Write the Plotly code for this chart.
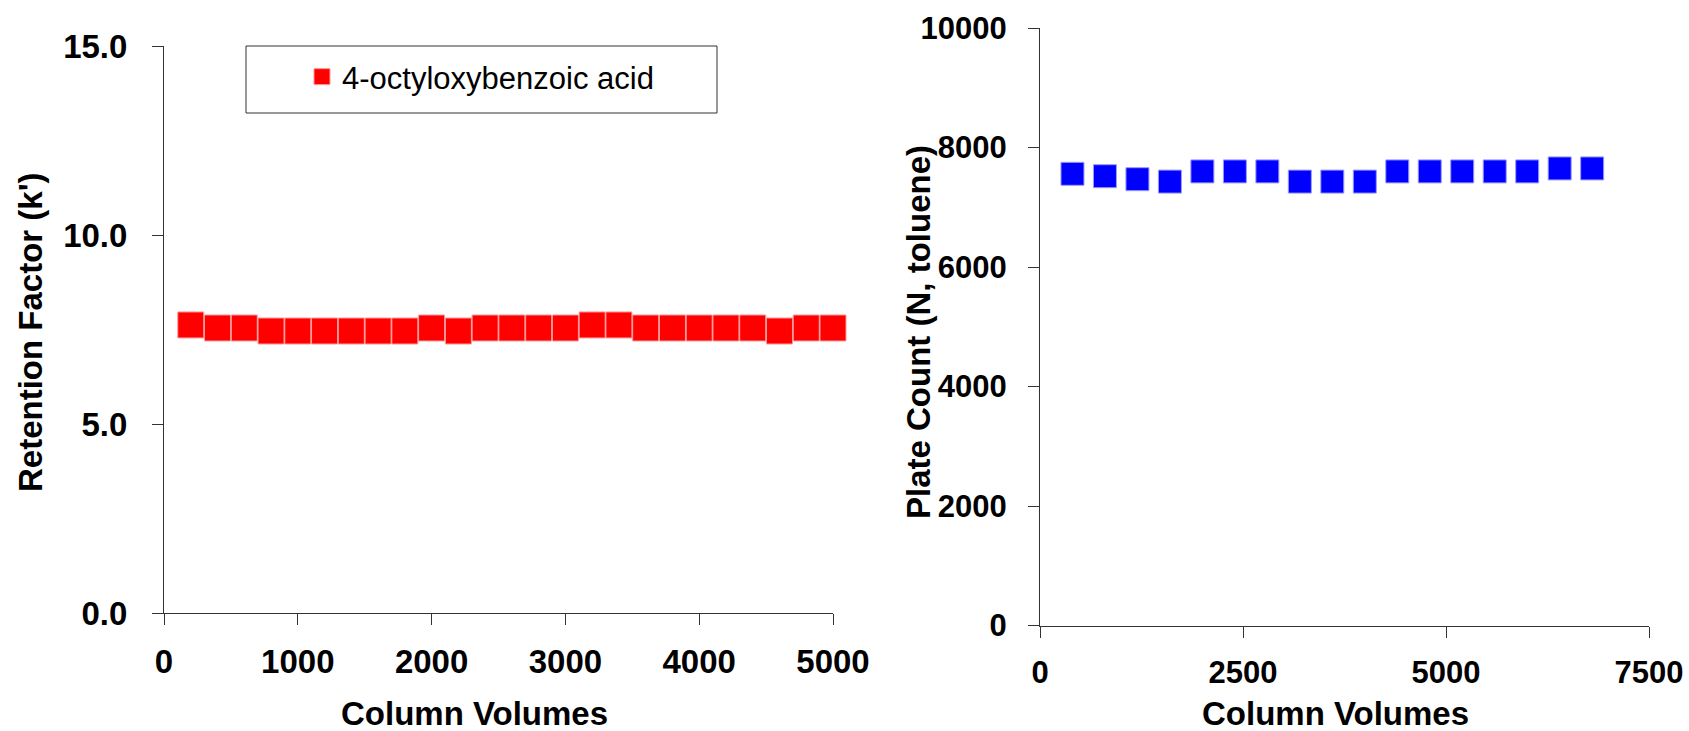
import plotly.graph_objects as go

# Left panel: retention factor of 4-octyloxybenzoic acid
cv_left = [200, 400, 600, 800, 1000, 1200, 1400, 1600, 1800, 2000, 2200, 2400, 2600,
           2800, 3000, 3200, 3400, 3600, 3800, 4000, 4200, 4400, 4600, 4800, 5000]
k_prime = [7.62, 7.54, 7.54, 7.46, 7.46, 7.46, 7.46, 7.46, 7.46, 7.54, 7.46, 7.54, 7.54,
           7.54, 7.54, 7.62, 7.62, 7.54, 7.54, 7.54, 7.54, 7.54, 7.46, 7.54, 7.54]

# Right panel: plate count (toluene)
cv_right = [400, 800, 1200, 1600, 2000, 2400, 2800, 3200, 3600, 4000, 4400, 4800, 5200,
            5600, 6000, 6400, 6800]
plates = [7560, 7520, 7470, 7430, 7600, 7600, 7600, 7430, 7430, 7430, 7600, 7600, 7600,
          7600, 7600, 7650, 7650]

left_ticks = [0, 5, 10, 15]
x_title = "Column Volumes"
y_title_left = "Retention Factor (k')"
y_title_right = "Plate Count (N, toluene)"

W, H = 1689, 731
FONT = "Liberation Sans, Arial, sans-serif"

fig = go.Figure()
fig.add_trace(go.Scatter(
    x=cv_left, y=k_prime, mode="markers", name="4-octyloxybenzoic acid",
    marker=dict(symbol="square", size=26, color="#ff0000",
                line=dict(width=1, color="#ff9a9a")),
    cliponaxis=False, xaxis="x", yaxis="y", showlegend=True))
fig.add_trace(go.Scatter(
    x=cv_right, y=plates, mode="markers", name="toluene",
    marker=dict(symbol="square", size=23, color="#0000ff",
                line=dict(width=1, color="#9a9aff")),
    cliponaxis=False, xaxis="x2", yaxis="y2", showlegend=False))

tf_left = dict(family=FONT, size=33, color="black", weight="bold")
tf_right = dict(family=FONT, size=31, color="black", weight="bold")
titlefont = dict(family=FONT, size=33, color="black", weight="bold")
axis_common = dict(showgrid=False, zeroline=False, showline=True, linecolor="#333333",
                   linewidth=1, ticks="outside", ticklen=11, tickcolor="#333333",
                   automargin=False)

fig.update_layout(
    width=W, height=H,
    margin=dict(l=0, r=0, t=0, b=0),
    paper_bgcolor="white", plot_bgcolor="white",
    xaxis=dict(domain=[164 / W, 833 / W], range=[0, 5000], dtick=1000, anchor="y",
               tickformat="d", tickfont=tf_left, ticklabelstandoff=8, **axis_common),
    yaxis=dict(domain=[1 - 613 / H, 1 - 46 / H], range=[0, 15], tickvals=left_ticks,
               tickformat=".1f", anchor="x", tickfont=tf_left, ticklabelstandoff=18,
               **axis_common),
    xaxis2=dict(domain=[1040 / W, 1649 / W], range=[0, 7500], dtick=2500, anchor="y2",
                tickformat="d", tickfont=tf_right, ticklabelstandoff=8, **axis_common),
    yaxis2=dict(domain=[1 - 625.6 / H, 1 - 28 / H], range=[0, 10000], dtick=2000,
                anchor="x2", tickformat="d", tickfont=tf_right, ticklabelstandoff=15,
                **axis_common),
    legend=dict(x=302 / W, y=1 - 77 / H, xanchor="left", yanchor="middle",
                bgcolor="rgba(0,0,0,0)", borderwidth=0,
                font=dict(family=FONT, size=31, color="black")),
    shapes=[dict(type="rect", xref="paper", yref="paper",
                 x0=246 / W, x1=717 / W, y0=1 - 113 / H, y1=1 - 46 / H,
                 line=dict(color="#333333", width=1), fillcolor="rgba(0,0,0,0)")],
    annotations=[
        dict(text=x_title, xref="paper", yref="paper", x=474 / W, y=1 - 713 / H,
             xanchor="center", yanchor="middle", showarrow=False, font=titlefont),
        dict(text=x_title, xref="paper", yref="paper", x=1335 / W, y=1 - 713 / H,
             xanchor="center", yanchor="middle", showarrow=False, font=titlefont),
        dict(text=y_title_left, xref="paper", yref="paper", x=30 / W, y=1 - 332 / H,
             xanchor="center", yanchor="middle", textangle=-90, showarrow=False,
             font=titlefont),
        dict(text=y_title_right, xref="paper", yref="paper", x=918 / W, y=1 - 332 / H,
             xanchor="center", yanchor="middle", textangle=-90, showarrow=False,
             font=titlefont),
    ],
)

fig.write_html("out.html", config={"displayModeBar": False},
               post_script="document.body.style.margin='0';")
